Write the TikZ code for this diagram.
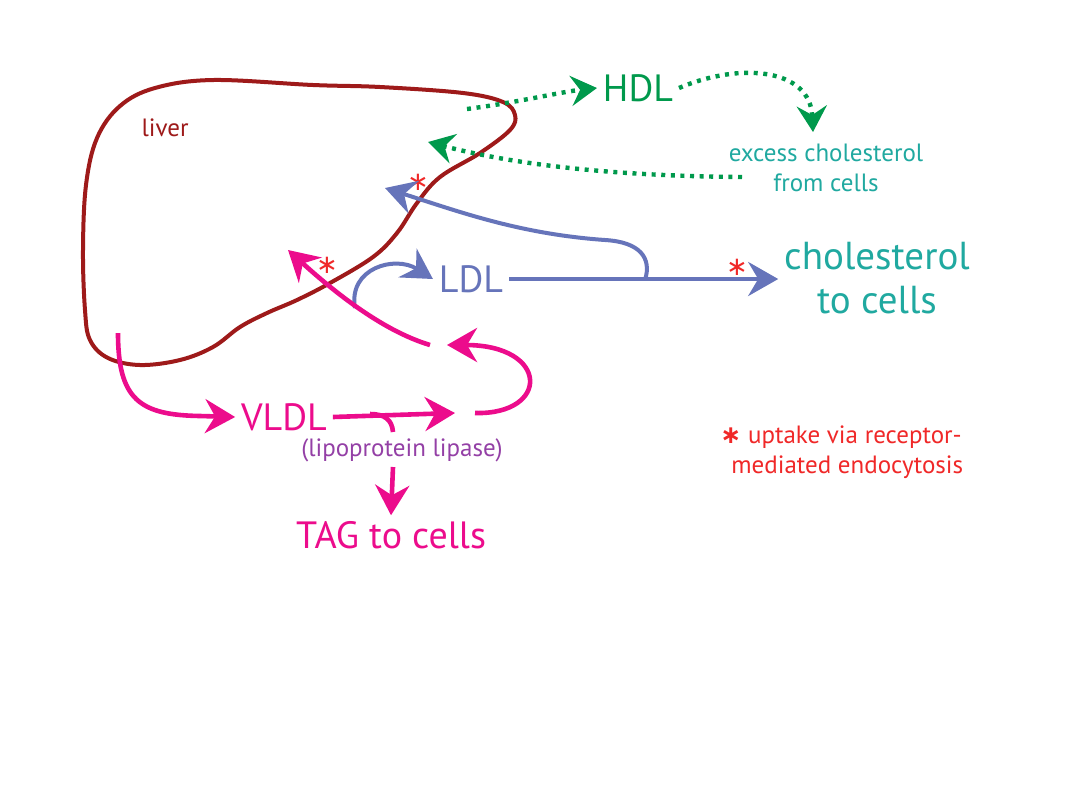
\documentclass[tikz,border=0pt]{standalone}
\usepackage{fontspec}
\setmainfont{PT Sans}
\newfontfamily\symfont{DejaVu Sans}
\usetikzlibrary{arrows.meta}
\definecolor{liverc}{HTML}{9E1A1A}
\definecolor{hdlc}{HTML}{00994C}
\definecolor{tealc}{HTML}{20A9A0}
\definecolor{ldlc}{HTML}{6674BA}
\definecolor{vldlc}{HTML}{EC0C8C}
\definecolor{lplc}{HTML}{9440A6}
\definecolor{starc}{HTML}{F02828}
\begin{document}
\begin{tikzpicture}[x=0.5pt,y=-0.5pt,
  big/.style={font=\fontsize{19}{22}\selectfont, inner sep=0pt, outer sep=3pt},
  small/.style={font=\fontsize{12.5}{15}\selectfont, inner sep=0pt, align=center},
  tipb/.style={-{Stealth[length=15pt,width=17pt,inset=5pt]}},
  tipg/.style={-{Stealth[length=13pt,width=15pt,inset=4.5pt]}},
  dotline/.style={hdlc, line width=2.2pt, dash pattern=on 2pt off 2.8pt, tipg},
  ldlline/.style={ldlc, line width=2pt, tipb},
  vline/.style={vldlc, line width=2.3pt},
  star/.style={starc, font=\symfont\fontsize{13}{13}\selectfont, inner sep=0pt},
]
\useasboundingbox (0,0) rectangle (1080,810);
\fill[white] (0,0) rectangle (1080,810);

% liver outline
\draw[liverc, line width=2pt] plot[smooth cycle, tension=0.6] coordinates {
 (83,250) (86,185) (97,138) (120,106) (155,88) (213,80) (313,85) (380,87) (463,93)
 (503,102) (515,115) (510,130) (480,153) (440,177) (417,203) (397,233)
 (373,257) (330,283) (297,300) (267,313) (240,327) (213,347) (180,360)
 (140,365) (108,358) (90,340) (85,310)};

% text nodes
\node[small, liverc] (liver) at (165,128) {liver};
\node[big, hdlc] (HDL) at (638,88) {HDL};
\node[small, tealc] (excess) at (826,168) {excess cholesterol\\from cells};
\node[big, ldlc] (LDL) at (471,279) {LDL};
\node[big, tealc, align=center, font=\fontsize{19.5}{22}\selectfont] (chol) at (877,278) {cholesterol\\to cells};
\node[big, vldlc] (VLDL) at (284,417) {VLDL};
\node[small, lplc] (lpl) at (402,450) {(lipoprotein lipase)};
\node[big, vldlc] (TAG) at (391,535) {TAG to cells};
\node[small, starc, anchor=west] (leg1) at (720,437) {{\symfont\bfseries ∗} uptake via receptor-};
\node[small, starc, anchor=west] (leg2) at (731,467) {mediated endocytosis};

\node[star] (s1) at (418,182) {∗};
\node[star] (s2) at (327,265) {∗};
\node[star] (s3) at (737,267) {∗};

% coordinates
\coordinate (hdlstart) at (467,109);
\coordinate (exin) at (813,132);
\coordinate (exout) at (742,177);
\coordinate (livin) at (428,142);
\coordinate (branch) at (645,280);
\coordinate (ldlback) at (385,188);
\coordinate (curl) at (355,308);
\coordinate (vstart) at (118,333);
\coordinate (vend) at (455,413);
\coordinate (lplb) at (370,414);
\coordinate (lplc) at (393,432);
\coordinate (tagtop) at (393,467);
\coordinate (loopstart) at (475,413);
\coordinate (loopend) at (447,345);
\coordinate (retstart) at (430,345);
\coordinate (retend) at (288,250);

% green HDL pathway
\draw[dotline] (hdlstart) .. controls (520,102) and (560,92) .. (HDL.west);
\draw[dotline] (HDL.east) .. controls (740,62) and (810,68) .. (exin);
\draw[dotline] (exout) .. controls (620,176) and (520,166) .. (livin);

% LDL pathway
\draw[ldlline] (LDL.east) -- (chol.west |- LDL.east);
\draw[ldlline] (branch) .. controls (652,258) and (640,242) .. (605,240)
   .. controls (520,234) and (460,212) .. (ldlback);
\draw[ldlline] (curl) .. controls (348,268) and (395,255) .. (LDL.west);

% VLDL pathway
\draw[vline, tipb] (vstart) .. controls (118,400) and (140,415) .. (200,416) -- (VLDL.west);
\draw[vline, tipb] (VLDL.east) -- (vend);
\draw[vline] (lplb) .. controls (385,414) and (392,420) .. (lplc);
\draw[vline, tipb] (tagtop) -- (TAG.north);
\draw[vline, tipb] (loopstart) .. controls (550,415) and (550,345) .. (loopend);
\draw[vline, tipb] (retstart) .. controls (380,330) and (330,288) .. (retend);
\end{tikzpicture}
\end{document}
